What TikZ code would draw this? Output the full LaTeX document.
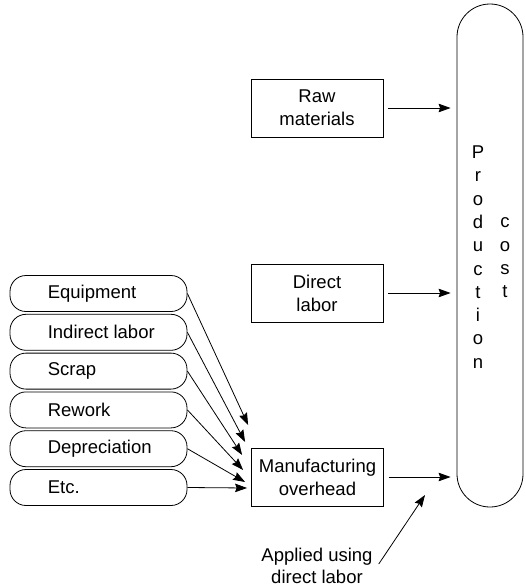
\documentclass[tikz,border=0pt]{standalone}
\usepackage{fontspec}
\setmainfont{Liberation Sans}
\usetikzlibrary{arrows.meta}

\tikzset{
 box/.style={draw,line width=0.8pt,minimum width=132pt,minimum height=58pt,align=center,inner sep=0pt},
 pillbox/.style={draw,line width=0.8pt,rounded corners=16pt,minimum width=177pt,minimum height=36pt,inner sep=0pt,
   label={[anchor=west,inner sep=0pt,xshift=38pt]west:#1}},
 flow/.style={line width=0.8pt,-{Stealth[length=12pt,width=8.5pt,inset=1.5pt]}},
}

\begin{document}
\begin{tikzpicture}[x=1pt,y=-1pt,font=\fontsize{18.5}{23}\selectfont]
 \def\gap{38.8} % distance between the cost items
 \def\px{98.5}  % x of the item pills
 \useasboundingbox (0,0) rectangle (525,586);
 % production cost column
 \node[draw,line width=0.8pt,rounded corners=33pt,minimum width=66pt,minimum height=503pt] (prod) at (490,255.5) {};
 \node[align=center,inner sep=0pt,font=\fontsize{18.5}{23.3}\selectfont] (prodtxt) at (478,257) {P\\r\\o\\d\\u\\c\\t\\i\\o\\n};
 \node[align=center,inner sep=0pt,font=\fontsize{18.5}{23.3}\selectfont] (costtxt) at (505,258) {c\\o\\s\\t};
 % direct costs
 \node[box] (raw) at (317,108) {Raw\\materials};
 \node[box] (dir) at (317,293) {Direct\\labor};
 \node[box] (mfg) at (317.5,477) {Manufacturing\\overhead};
 \draw[flow] ([xshift=5pt]raw.east) -- ([xshift=-6pt]raw.east -| prod.west);
 \draw[flow] ([xshift=5pt]dir.east) -- ([xshift=-6pt]dir.east -| prod.west);
 \draw[flow] ([xshift=5pt]mfg.east) -- ([xshift=-6pt]mfg.east -| prod.west);
 % overhead items
 \foreach \name/\txt/\dx/\dy [count=\i] in {eqp/Equipment/-3/-52, ind/Indirect labor/-6/-35,
     scr/Scrap/-9/-22, rwk/Rework/-8/-7, dep/Depreciation/-6/5, etc/Etc./-4/11}{
   \node[pillbox=\txt] (\name) at (\px,{293.5+\gap*(\i-1)}) {};
   \coordinate (tip\i) at ([shift={(\dx,\dy)}]mfg.west);
   \draw[flow] (\name.east) -- (tip\i);
 }
 % allocation note
 \node[align=center,inner sep=0pt,font=\fontsize{18.5}{22}\selectfont] (appl) at (317,566) {Applied using\\direct labor};
 \coordinate (aim) at (425,495);
 \draw[flow] ([xshift=6pt,yshift=2pt]appl.east) -- (aim);
\end{tikzpicture}
\end{document}
